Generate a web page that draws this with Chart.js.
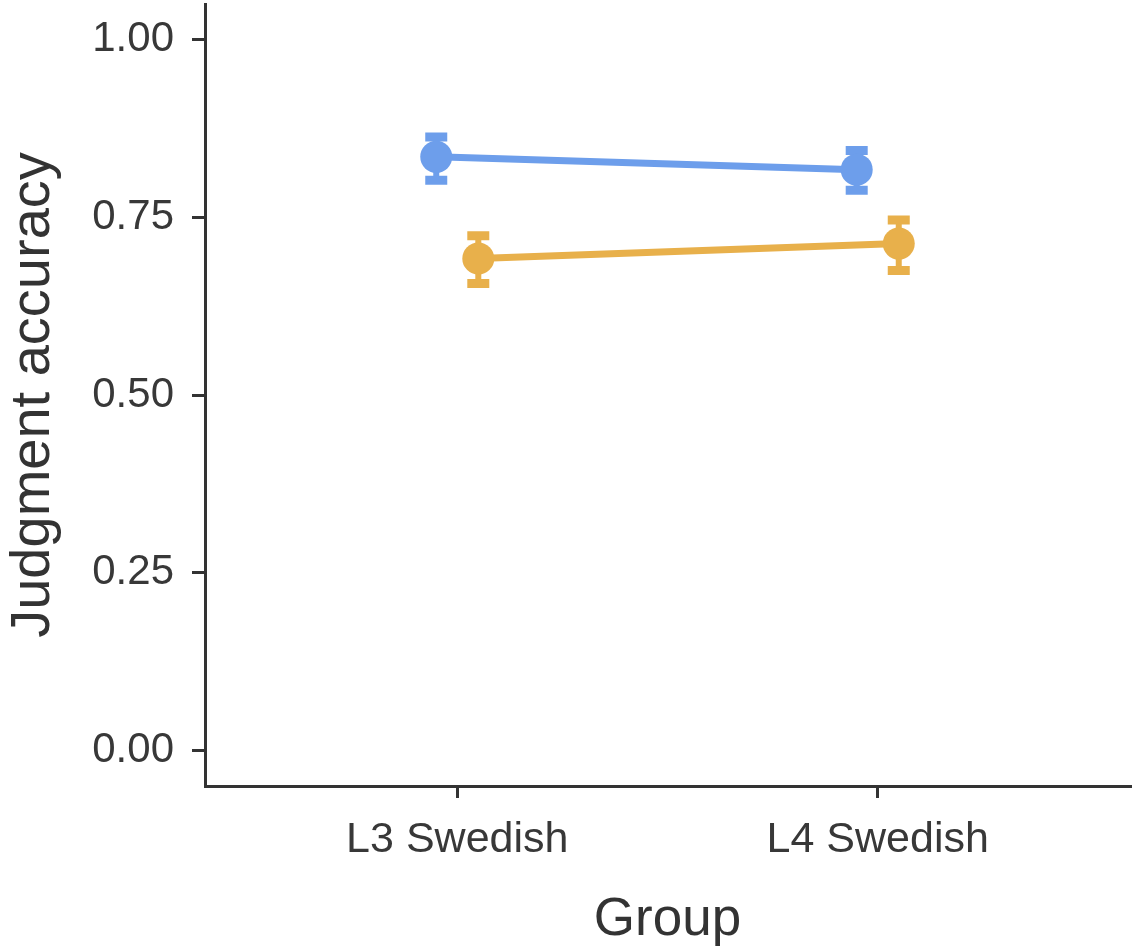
<!DOCTYPE html>
<html lang="en">
<head>
    <meta charset="UTF-8">
    <title>Judgment accuracy by group</title>
    <script src="https://cdn.jsdelivr.net/npm/chart.js@4.4.1/dist/chart.umd.min.js"></script>
    <style>
        html, body { margin: 0; padding: 0; background: #fff; }
        #wrap { width: 1134px; height: 952px; }
    </style>
</head>
<body>
    <div id="wrap"><canvas id="myChart"></canvas></div>
    <script>
        // Data
        const groups = ['L3 Swedish', 'L4 Swedish'];
        const groupPos = [1, 2];
        const yTicks = [0, 0.25, 0.5, 0.75, 1];

        const blueMean = [0.835, 0.817];
        const blueLow  = [0.802, 0.788];
        const blueHigh = [0.863, 0.844];

        const orangeMean = [0.692, 0.713];
        const orangeLow  = [0.657, 0.675];
        const orangeHigh = [0.724, 0.746];

        const dodge = 0.05;
        const blue = '#6d9eeb';
        const orange = '#e8b04b';
        const ink = '#333333';
        const fam = '"Liberation Sans", Arial, Helvetica, sans-serif';

        function pts(mean, off) {
            return mean.map((v, i) => ({ x: groupPos[i] + off, y: v }));
        }

        const series = [
            { mean: blueMean, low: blueLow, high: blueHigh, color: blue, off: -dodge },
            { mean: orangeMean, low: orangeLow, high: orangeHigh, color: orange, off: dodge }
        ];

        // no extra room for tick labels at the ends, the panel fills the page
        function noPad(axis) {
            axis.paddingTop = 0;
            axis.paddingBottom = 0;
            axis.paddingLeft = 0;
            axis.paddingRight = 0;
        }

        // error bars drawn under the lines and points
        const errorBars = {
            id: 'errorBars',
            beforeDatasetsDraw(chart) {
                const ctx = chart.ctx;
                const xs = chart.scales.x, ys = chart.scales.y;
                ctx.save();
                series.forEach(s => {
                    ctx.strokeStyle = s.color;
                    s.mean.forEach((m, i) => {
                        const px = xs.getPixelForValue(groupPos[i] + s.off);
                        const lo = ys.getPixelForValue(s.low[i]);
                        const hi = ys.getPixelForValue(s.high[i]);
                        ctx.lineWidth = 6;
                        ctx.beginPath();
                        ctx.moveTo(px, lo);
                        ctx.lineTo(px, hi);
                        ctx.stroke();
                        ctx.lineWidth = 9;
                        ctx.beginPath();
                        ctx.moveTo(px - 11, lo); ctx.lineTo(px + 11, lo);
                        ctx.moveTo(px - 11, hi); ctx.lineTo(px + 11, hi);
                        ctx.stroke();
                    });
                });
                ctx.restore();
            }
        };

        const ctx = document.getElementById('myChart').getContext('2d');
        new Chart(ctx, {
            type: 'scatter',
            data: {
                datasets: series.map((s, k) => ({
                    label: k === 0 ? 'Series 1' : 'Series 2',
                    data: pts(s.mean, s.off),
                    showLine: true,
                    borderColor: s.color,
                    backgroundColor: s.color,
                    borderWidth: 7,
                    pointRadius: 16,
                    pointBorderWidth: 0,
                    pointHoverRadius: 16
                }))
            },
            options: {
                responsive: true,
                maintainAspectRatio: false,
                animation: false,
                events: [],
                layout: { autoPadding: false, padding: { top: 4, right: 4, left: 0, bottom: 0 } },
                plugins: { legend: { display: false }, tooltip: { enabled: false } },
                scales: {
                    x: {
                        type: 'linear',
                        min: 0.4,
                        max: 2.6,
                        afterBuildTicks: axis => { axis.ticks = groupPos.map(v => ({ value: v })); },
                        afterFit: axis => { axis.height = 166; noPad(axis); },
                        ticks: {
                            callback: v => groups[groupPos.indexOf(v)],
                            font: { family: fam, size: 43 },
                            color: '#383838',
                            padding: 16,
                            maxRotation: 0
                        },
                        grid: { drawOnChartArea: false, drawTicks: true, tickLength: 12, color: ink, lineWidth: 3 },
                        border: { display: true, color: ink, width: 3 },
                        title: {
                            display: true,
                            text: 'Group',
                            font: { family: fam, size: 53 },
                            color: ink,
                            padding: { top: 0, bottom: 0 }
                        }
                    },
                    y: {
                        min: -0.05,
                        max: 1.05,
                        afterBuildTicks: axis => { axis.ticks = yTicks.map(v => ({ value: v })); },
                        afterFit: axis => { axis.width = 205; noPad(axis); },
                        ticks: {
                            callback: v => v.toFixed(2),
                            font: { family: fam, size: 42 },
                            color: '#383838',
                            padding: 18
                        },
                        grid: { drawOnChartArea: false, drawTicks: true, tickLength: 13, color: ink, lineWidth: 3 },
                        border: { display: true, color: ink, width: 3 },
                        title: {
                            display: true,
                            text: 'Judgment accuracy',
                            font: { family: fam, size: 56 },
                            color: ink,
                            padding: { top: 0, bottom: 0 }
                        }
                    }
                }
            },
            plugins: [errorBars]
        });
    </script>
</body>
</html>
